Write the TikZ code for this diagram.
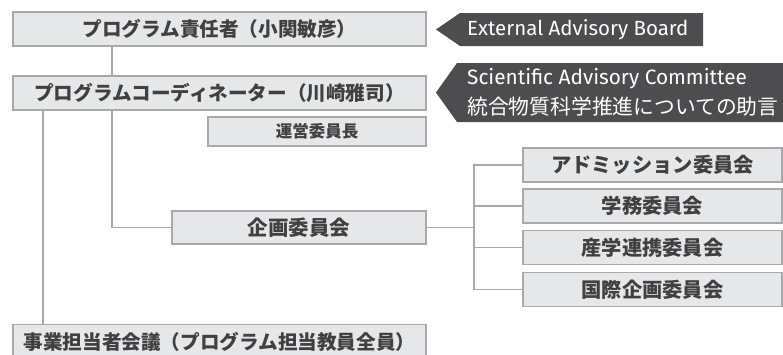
\documentclass[tikz,border=0pt]{standalone}
\usepackage{fontspec}
\newfontfamily\jp{Noto Sans CJK JP}
\newfontfamily\lat{Fira Sans}
\definecolor{boxfill}{HTML}{E6E7E8}
\definecolor{boxline}{HTML}{A7A9AC}
\definecolor{txt}{HTML}{404041}
\definecolor{dark}{HTML}{4D4D4F}
\tikzset{
  box/.style={draw=boxline, fill=boxfill, line width=1.5pt, inner sep=0pt, text=txt,
    font=\jp\bfseries\fontsize{19.6}{19.6}\selectfont},
  wide/.style={minimum width=413pt, minimum height=34pt},
  side/.style={minimum width=259pt, minimum height=34pt, font=\jp\bfseries\fontsize{20.3}{20.3}\selectfont},
  conn/.style={draw=boxline, line width=1.6pt},
  tag/.style={fill=dark},
  tagtext/.style={text=white, inner sep=0pt, anchor=west}
}
\begin{document}
\begin{tikzpicture}[x=1pt, y=-1pt]
\useasboundingbox (0,0) rectangle (783,354);
\clip (0,0) rectangle (783,354);
% boxes
\node[box, wide] (b1) at (219.5,29) {プログラム責任者（小関敏彦）};
\node[box, wide] (b2) at (219.5,93) {プログラムコーディネーター（川崎雅司）};
\node[box, minimum width=218pt, minimum height=29pt, font=\jp\bfseries\fontsize{16.5}{16.5}\selectfont] (un) at (317,131.5) {運営委員長};
\node[box, minimum width=254pt, minimum height=33pt, font=\jp\bfseries\fontsize{20.5}{20.5}\selectfont] (ki) at (299,227.5) {企画委員会};
\node[box, wide] (bt) at (219.5,341.5) {事業担当者会議（プログラム担当教員全員）};
\node[box, side] (r1) at (652.5,165) {アドミッション委員会};
\node[box, side] (r2) at (652.5,206) {学務委員会};
\node[box, side] (r3) at (652.5,247.5) {産学連携委員会};
\node[box, side] (r4) at (652.5,289.5) {国際企画委員会};
% connectors
\draw[conn] ([xshift=100pt]b1.south west) -- ([xshift=100pt]b2.north west);
\draw[conn] ([xshift=100pt]b2.south west) |- (ki.west);
\draw[conn] ([xshift=31pt]b2.south west) -- ([xshift=31pt]bt.north west);
\coordinate (fork) at (474,227.5);
\draw[conn] (ki.east) -- (fork);
\foreach \r in {r1,r2,r3,r4} \draw[conn] (\r.west) -| (fork);
% dark tags
\fill[tag] (436,29.5) -- (460,13) -- (703,13) -- (703,46) -- (460,46) -- cycle;
\node[tagtext, font=\lat\fontsize{20.5}{20.5}\selectfont] (eab) at (467,29.5) {External Advisory Board};
\fill[tag] (436,92.5) -- (457,63) -- (783,63) -- (783,122) -- (457,122) -- cycle;
\node[tagtext, align=left, font=\fontsize{20.8}{30}\selectfont] (sac) at (467,92.5)
  {{\lat Scientific Advisory Committee}\\{\jp\fontsize{20.8}{30}\selectfont 統合物質科学推進についての助言}};
\end{tikzpicture}
\end{document}
